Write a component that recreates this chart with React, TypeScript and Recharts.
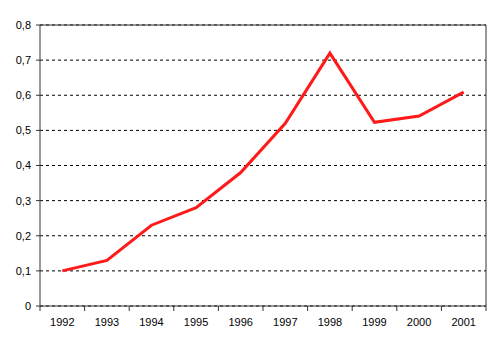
import React from 'react';
import {
  LineChart,
  Line,
  XAxis,
  YAxis,
  CartesianGrid,
  ReferenceLine,
} from 'recharts';

const YEARS = ['1992', '1993', '1994', '1995', '1996', '1997', '1998', '1999', '2000', '2001'];
const VALUES = [0.1, 0.13, 0.23, 0.28, 0.38, 0.52, 0.72, 0.523, 0.541, 0.609];
const Y_TICKS = [0, 0.1, 0.2, 0.3, 0.4, 0.5, 0.6, 0.7, 0.8];

// each year sits in the middle of its slot, ticks mark slot edges
const data = YEARS.map((year, i) => ({ x: i + 0.5, year, value: VALUES[i] }));
const edgeTicks = YEARS.map((_, i) => i).concat(YEARS.length);
const centerTicks = data.map((d) => d.x);

const fmtY = (v: number) => (v === 0 ? '0' : v.toFixed(1).replace('.', ','));
const fmtYear = (v: number) => YEARS[Math.floor(v)] ?? '';

const tickStyle = { fill: '#000', fontSize: 11, fontFamily: '"Liberation Sans", Arial, sans-serif' };
const AXIS = '#333';

export default function App() {
  return (
    <div style={{ position: 'absolute', left: 0, top: 0, width: 501, height: 348, background: '#fff' }}>
      <LineChart width={501} height={348} data={data} margin={{ top: 25, right: 15, bottom: 7, left: 0 }}>
        <CartesianGrid horizontal vertical={false} stroke="#000" strokeDasharray="3 3" />
        <XAxis
          dataKey="x"
          type="number"
          domain={[0, YEARS.length]}
          ticks={edgeTicks}
          tickFormatter={() => ''}
          tickSize={5}
          height={5}
          stroke={AXIS}
          tickLine={{ stroke: AXIS }}
        />
        <XAxis
          xAxisId="lbl"
          dataKey="x"
          type="number"
          domain={[0, YEARS.length]}
          ticks={centerTicks}
          tickFormatter={fmtYear}
          axisLine={false}
          tickLine={false}
          tickSize={0}
          tickMargin={7}
          height={30}
          tick={tickStyle}
          interval={0}
        />
        <YAxis
          domain={[0, 0.8]}
          ticks={Y_TICKS}
          tickFormatter={fmtY}
          width={40}
          tickSize={4}
          tickMargin={5}
          stroke={AXIS}
          tick={tickStyle}
          interval={0}
        />
        <ReferenceLine y={0.8} stroke={AXIS} />
        <ReferenceLine x={YEARS.length} stroke={AXIS} />
        <Line
          dataKey="value"
          type="linear"
          stroke="#ff1a1a"
          strokeWidth={3}
          dot={false}
          isAnimationActive={false}
        />
      </LineChart>
    </div>
  );
}
